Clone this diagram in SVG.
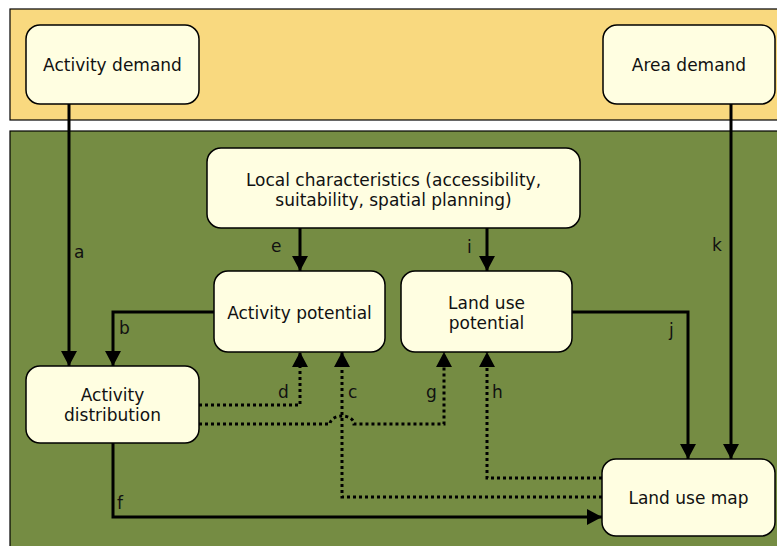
<svg xmlns="http://www.w3.org/2000/svg" width="777" height="546" viewBox="0 0 777 546">
<style>
.band{stroke:#000;stroke-width:1.2}
.node rect{fill:#FFFEE1;stroke:#000;stroke-width:1.5}
text{font-family:"DejaVu Sans",Verdana,sans-serif;font-size:17px;fill:#111}
.node text{text-anchor:middle}
.solid{fill:none;stroke:#000;stroke-width:3}
.dot{fill:none;stroke:#000;stroke-width:3;stroke-dasharray:3 3}
</style>
<defs>
<marker id="ah" viewBox="0 0 15 16" refX="15" refY="8" markerWidth="15" markerHeight="16" markerUnits="userSpaceOnUse" orient="auto">
<path d="M0,0 L15,8 L0,16 z" fill="#000"/>
</marker>
</defs>
<rect width="777" height="546" fill="#fff"/>
<rect class="band" x="10" y="9" width="800" height="111" fill="#F9D97F"/>
<rect class="band" x="10" y="131" width="800" height="430" fill="#758C43"/>

<g id="connectors">
<path class="solid" d="M69,104 V366" marker-end="url(#ah)"/>
<path class="solid" d="M731,104 V459" marker-end="url(#ah)"/>
<path class="solid" d="M300,228 V271" marker-end="url(#ah)"/>
<path class="solid" d="M487,228 V271" marker-end="url(#ah)"/>
<path class="solid" d="M214,312 H113 V366" marker-end="url(#ah)"/>
<path class="solid" d="M572,312 H688 V459" marker-end="url(#ah)"/>
<path class="solid" d="M113,443 V517 H602" marker-end="url(#ah)"/>
<path class="dot" d="M199,405 H300 V352" marker-end="url(#ah)"/>
<path class="dot" d="M199,424 H330 A12,8 0 0 1 354,424 H444 V352" marker-end="url(#ah)"/>
<path class="dot" d="M602,497 H342 V352" marker-end="url(#ah)"/>
<path class="dot" d="M602,478 H487 V352" marker-end="url(#ah)"/>
<text x="74" y="258">a</text>
<text x="119" y="334">b</text>
<text x="348" y="398">c</text>
<text x="278" y="398">d</text>
<text x="271" y="252">e</text>
<text x="117" y="509">f</text>
<text x="426" y="398">g</text>
<text x="492" y="398">h</text>
<text x="467" y="253">i</text>
<text x="669" y="336">j</text>
<text x="712" y="251">k</text>
</g>

<g id="activity-demand" class="node">
<rect x="26" y="25" width="173" height="79" rx="14"/>
<text x="112.5" y="71">Activity demand</text>
</g>
<g id="area-demand" class="node">
<rect x="603" y="25" width="172" height="79" rx="14"/>
<text x="689" y="71">Area demand</text>
</g>
<g id="local-characteristics" class="node">
<rect x="207" y="148" width="373" height="80" rx="14"/>
<text x="393.5" y="186">Local characteristics (accessibility,</text>
<text x="393.5" y="206">suitability, spatial planning)</text>
</g>
<g id="activity-potential" class="node">
<rect x="214" y="271" width="171" height="81" rx="14"/>
<text x="299.5" y="319">Activity potential</text>
</g>
<g id="land-use-potential" class="node">
<rect x="401" y="271" width="171" height="81" rx="14"/>
<text x="486.5" y="309">Land use</text>
<text x="486.5" y="329">potential</text>
</g>
<g id="activity-distribution" class="node">
<rect x="26" y="366" width="173" height="77" rx="14"/>
<text x="112.5" y="401">Activity</text>
<text x="112.5" y="421">distribution</text>
</g>
<g id="land-use-map" class="node">
<rect x="602" y="459" width="173" height="77" rx="14"/>
<text x="688.5" y="504">Land use map</text>
</g>
</svg>
